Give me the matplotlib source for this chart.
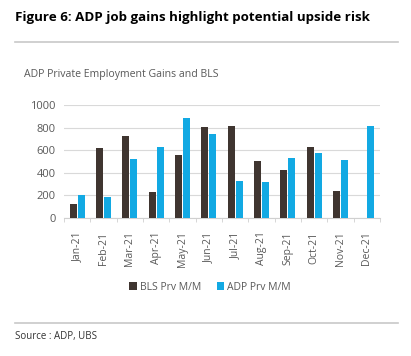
import matplotlib.pyplot as plt
import numpy as np

# data
months = ["Jan-21", "Feb-21", "Mar-21", "Apr-21", "May-21", "Jun-21",
          "Jul-21", "Aug-21", "Sep-21", "Oct-21", "Nov-21", "Dec-21"]
bls = [122, 620, 725, 228, 554, 809, 818, 507, 424, 628, 237, np.nan]
adp = [200, 187, 524, 628, 889, 747, 329, 317, 531, 572, 513, 815]
yticks = [0, 200, 400, 600, 800, 1000]

bls_color = "#3f3530"
adp_color = "#12a9e3"
text_gray = "#595959"

plt.rcParams['font.family'] = ['Open Sans', 'DejaVu Sans']

fig = plt.figure(figsize=(4.11, 3.56), dpi=100)
W, H = 411.0, 356.0

# header / footer
fig.text(15 / W, 1 - 18 / H, "Figure 6: ADP job gains highlight potential upside risk",
         fontsize=9.6, fontweight='bold', color='black', va='center', ha='left')
fig.add_artist(plt.Line2D([15 / W, 398 / W], [1 - 42 / H, 1 - 42 / H], color='#c8c8c8', lw=1.2))
fig.text(24 / W, 1 - 75 / H, "ADP Private Employment Gains and BLS",
         fontsize=7.6, color=text_gray, va='center', ha='left')
fig.add_artist(plt.Line2D([15 / W, 398 / W], [1 - 323 / H, 1 - 323 / H], color='#c8c8c8', lw=1.2))
fig.text(15 / W, 1 - 337 / H, "Source : ADP, UBS", fontsize=7, color='#333333',
         va='center', ha='left')

# main axes
ax = fig.add_axes([64 / W, 1 - 217.7 / H, (380 - 64) / W, (217.7 - 105) / H])
x = np.arange(len(months))
w = 0.27
ax.bar(x - w / 2 - 0.02, bls, w, color=bls_color, label="BLS Prv M/M", zorder=3)
ax.bar(x + w / 2 + 0.02, adp, w, color=adp_color, label="ADP Prv M/M", zorder=3)

ax.set_xlim(-0.5, len(months) - 0.5)
ax.set_ylim(0, 1000)
ax.set_yticks(yticks)
ax.set_yticklabels([str(v) for v in yticks])
ax.set_xticks(x)
ax.set_xticklabels(months, rotation=90)
ax.set_xticks(np.arange(-0.5, len(months)), minor=True)
ax.tick_params(axis='x', which='major', length=0, pad=10, labelsize=7.5, colors=text_gray)
ax.tick_params(axis='x', which='minor', length=3, color='#d0d0d0')
ax.tick_params(axis='y', length=0, labelsize=8, colors=text_gray, pad=6)
ax.grid(axis='y', color='#d9d9d9', lw=0.8, zorder=0)
for s in ['top', 'right', 'left']:
    ax.spines[s].set_visible(False)
ax.spines['bottom'].set_color('#d0d0d0')

leg = fig.legend(loc='center', bbox_to_anchor=(210 / W, 1 - 287 / H), ncol=2, frameon=False,
                 fontsize=7.5, handlelength=0.7, handleheight=0.7, handletextpad=0.3,
                 columnspacing=1.5, labelcolor=text_gray)

fig.savefig("out.png", dpi=100, facecolor='white')
